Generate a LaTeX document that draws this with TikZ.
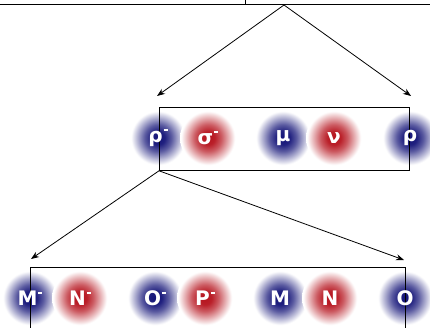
\documentclass[tikz,border=0pt]{standalone}
\usepackage{fontspec}
\setmainfont{DejaVu Sans}
\usetikzlibrary{arrows.meta,positioning,calc}
\definecolor{BallBlue}{RGB}{20,20,120}
\definecolor{BallRed}{RGB}{182,20,30}
\pgfdeclareradialshading{blueglow}{\pgfpointorigin}{color(0bp)=(BallBlue); color(6bp)=(BallBlue!95); color(12bp)=(BallBlue!70); color(24bp)=(white); color(50bp)=(white)}
\pgfdeclareradialshading{redglow}{\pgfpointorigin}{color(0bp)=(BallRed); color(6bp)=(BallRed!95); color(12bp)=(BallRed!70); color(24bp)=(white); color(50bp)=(white)}
\pgfdeclarelayer{glowlayer}
\pgfdeclarelayer{linelayer}
\pgfsetlayers{glowlayer,linelayer,main}
\newcommand{\negsup}{\kern1pt\raisebox{11.5pt}{\rule{4pt}{1.5pt}}}
\tikzset{
  ball/.style={circle,minimum size=48pt,inner sep=0pt,text=white,font=\bfseries\fontsize{20}{20}\selectfont},
  listbox/.style={draw,line width=0.8pt,inner sep=0pt,anchor=north west},
  branch/.style={-{Stealth[length=8pt,width=6pt]},line width=0.8pt}
}
\begin{document}
\begin{tikzpicture}[x=1pt,y=-1pt]
\useasboundingbox (0,0) rectangle (430,328);
\clip (0,0) rectangle (430,328);
% upper row
\node[ball] (rhom) at (158,138) {ρ\negsup};
\node[ball] (sigm) at (208,138) {σ\negsup};
\node[ball] (mu) at (283,138) {μ};
\node[ball] (nu) at (334,138) {ν};
\node[ball] (rho) at (410,138) {ρ};
% lower row
\node[ball] (mm) at (30,298) {M\negsup};
\node[ball] (nm) at (80,298) {N\negsup};
\node[ball] (om) at (155,298) {O\negsup};
\node[ball] (pm) at (205,298) {P\negsup};
\node[ball] (m) at (280,298) {M};
\node[ball] (n) at (330,298) {N};
\node[ball] (o) at (405,298) {O};
\begin{pgfonlayer}{glowlayer}
\foreach \b in {rhom,mu,rho,mm,om,m,o}
  \shade[shading=blueglow] (\b) circle (28pt);
\foreach \b in {sigm,nu,nm,pm,n}
  \shade[shading=redglow] (\b) circle (28pt);
\end{pgfonlayer}
\begin{pgfonlayer}{linelayer}
% parent list (cut off)
\draw[line width=0.8pt] (-5,4) -- (435,4) (245,-5) -- (245,4);
\coordinate (apex) at (284,5);
% list boxes
\node[listbox,minimum width=250pt,minimum height=63pt] (upper) at (159,107) {};
\node[listbox,minimum width=375pt,minimum height=90pt] (lower) at (30,267) {};
\coordinate (upl) at (157,96);
\coordinate (upr) at (411,96);
\coordinate (lol) at (31,259);
\coordinate (lor) at (404,260);
\draw[branch] (apex) -- (upl);
\draw[branch] (apex) -- (upr);
\draw[branch] (upper.south west) -- (lol);
\draw[branch] (upper.south west) -- (lor);
\end{pgfonlayer}
\end{tikzpicture}
\end{document}
